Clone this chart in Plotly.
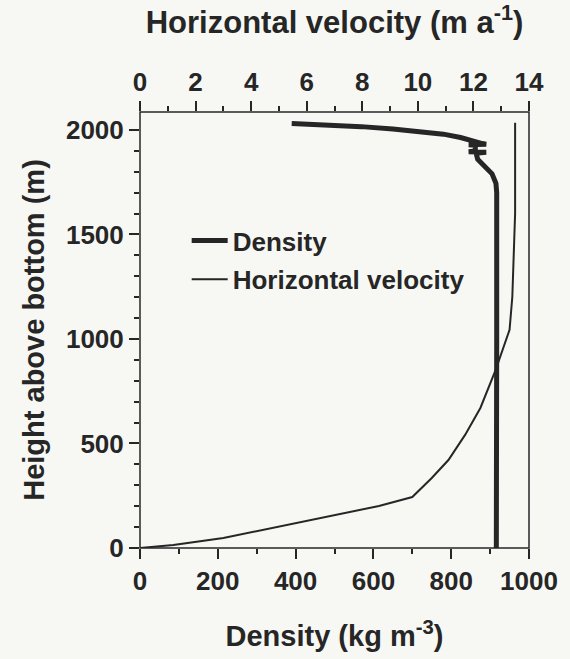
import plotly.graph_objects as go

# Density profile (kg m^-3) vs height above bottom (m)
density = [390, 480, 569, 650, 722, 780, 824, 855, 880, 890, 845, 862, 862, 845, 890, 864, 868, 885, 905, 915, 917, 917, 916]
density_height = [2031, 2025, 2016, 2005, 1992, 1980, 1964, 1945, 1935, 1932, 1929, 1927, 1900, 1896, 1893, 1889, 1860, 1830, 1790, 1745, 1700, 1000, 0]

# Horizontal velocity (m a^-1) vs height above bottom (m)
velocity = [0, 1.2, 3.0, 5.6, 8.6, 9.8, 10.5, 11.1, 11.7, 12.25, 12.8, 13.3, 13.4, 13.46, 13.5, 13.5]
velocity_height = [0, 14, 48, 120, 201, 244, 335, 421, 541, 670, 852, 1044, 1202, 1442, 1600, 2035]

density_ticks = [0, 200, 400, 600, 800, 1000]
velocity_ticks = [0, 2, 4, 6, 8, 10, 12, 14]
height_ticks = [0, 500, 1000, 1500, 2000]

INK = "#262626"
BG = "#f7f8f4"
FONT = "Liberation Sans"

fig = go.Figure()
fig.add_trace(go.Scatter(x=density, y=density_height, mode="lines", name="Density",
                         line=dict(color=INK, width=5), xaxis="x", yaxis="y",
                         legendgroup="a"))
fig.add_trace(go.Scatter(x=velocity, y=velocity_height, mode="lines", name="Horizontal velocity",
                         line=dict(color=INK, width=2), xaxis="x2", yaxis="y",
                         legendgroup="b"))

tickfont = dict(family=FONT, size=26, color=INK, weight="bold")
titlefont = dict(family=FONT, size=29, color=INK, weight="bold")


def axis(ticks, minor_dtick, **kw):
    d = dict(range=[ticks[0], ticks[-1]], dtick=ticks[1] - ticks[0],
             ticks="outside", ticklen=10, tickwidth=2, tickcolor=INK,
             showline=False,
             showgrid=True, gridcolor=BG, zeroline=True, zerolinecolor=BG,
             tickfont=tickfont,
             minor=dict(dtick=minor_dtick, ticks="outside", ticklen=5, tickwidth=1.5, tickcolor=INK))
    d.update(kw)
    return d


fig.update_layout(
    width=570, height=659,
    margin=dict(l=140, r=38, t=112, b=110),
    paper_bgcolor=BG, plot_bgcolor=BG,
    font=dict(family=FONT, color=INK),
    showlegend=True,
    legend=dict(x=0.12, y=0.759, xanchor="left", yanchor="top",
                bgcolor=BG, font=dict(family=FONT, size=26, color=INK, weight="bold"),
                traceorder="grouped", tracegroupgap=2, itemwidth=36),
    xaxis=axis(density_ticks, 100,
               title=dict(text="Density (kg m<sup>-3</sup>)", font=titlefont, standoff=30)),
    xaxis2=axis(velocity_ticks, 1, overlaying="x", side="top", anchor="y",
                title=dict(text="Horizontal velocity (m a<sup>-1</sup>)",
                           font=dict(family=FONT, size=31, color=INK, weight="bold"), standoff=26)),
    yaxis=axis(height_ticks, 100, range=[0, 2086],
               title=dict(text="Height above bottom (m)", font=titlefont, standoff=12)),
    shapes=[dict(type="rect", xref="paper", yref="paper", x0=0, x1=1, y0=0, y1=1,
                 line=dict(color=INK, width=1.5), layer="above")],
)

fig.write_html("out.html")
